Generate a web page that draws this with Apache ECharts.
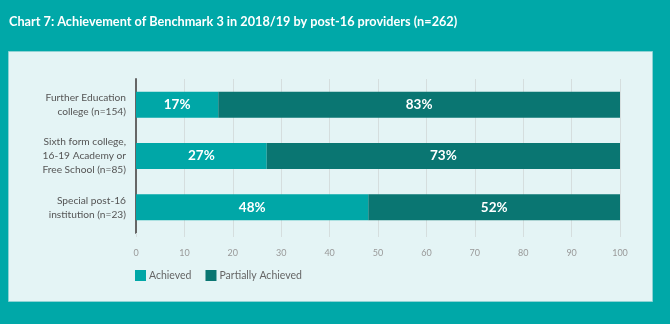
<!DOCTYPE html>
<html>
<head>
<meta charset="utf-8">
<style>
html,body{margin:0;padding:0;background:#00A8A8;}
#chart{width:670px;height:324px;}
</style>
<script src="https://cdn.jsdelivr.net/npm/echarts@6/dist/echarts.min.js"></script>
</head>
<body>
<div id="chart"></div>
<script>
const categories = [
  "Further Education\ncollege (n=154)",
  "Sixth form college,\n16-19 Academy or\nFree School (n=85)",
  "Special post-16\ninstitution (n=23)"
];
const achieved = [17, 27, 48];
const partiallyAchieved = [83, 73, 52];
const seriesNames = ["Achieved", "Partially Achieved"];
const xTicks = [0, 10, 20, 30, 40, 50, 60, 70, 80, 90, 100];
const titleText = "Chart 7: Achievement of Benchmark 3 in 2018/19 by post-16 providers (n=262)";

const chart = echarts.init(document.getElementById('chart'), null, {renderer: 'canvas'});
const font = 'Lato, "Open Sans", sans-serif';
const labelStyle = {
  show: true,
  position: 'inside',
  color: '#ffffff',
  fontFamily: font,
  fontSize: 13.5,
  fontWeight: 'bold',
  formatter: p => p.value + '%'
};
chart.setOption({
  backgroundColor: '#00A8A8',
  animation: false,
  graphic: [{
    type: 'rect',
    z: -10,
    shape: {x: 8.5, y: 51.5, width: 644, height: 250},
    style: {fill: '#E4F4F5', stroke: '#8ED3D4', lineWidth: 1}
  }],
  title: {
    text: titleText,
    left: 4,
    top: 10,
    textStyle: {color: '#ffffff', fontFamily: font, fontSize: 12.7, fontWeight: 'bold'}
  },
  legend: {
    data: seriesNames,
    left: 130,
    top: 265,
    itemWidth: 11,
    itemHeight: 11,
    itemGap: 14,
    icon: 'rect',
    textStyle: {color: '#666', fontFamily: font, fontSize: 10.5, padding: [0, 0, 0, -2]}
  },
  grid: {left: 136, right: 50, top: 79, height: 154, containLabel: false},
  xAxis: {
    type: 'value',
    min: xTicks[0],
    max: xTicks[xTicks.length - 1],
    interval: 10,
    axisLine: {show: false},
    axisTick: {show: true, length: 4, lineStyle: {color: '#D5DEDE'}},
    splitLine: {show: true, lineStyle: {color: '#D5DEDE', width: 1}},
    axisLabel: {color: '#999', fontFamily: font, fontSize: 9, margin: 16}
  },
  yAxis: {
    type: 'category',
    data: categories,
    inverse: true,
    axisLine: {show: true, lineStyle: {color: '#666', width: 2}},
    axisTick: {show: false},
    axisLabel: {color: '#555', fontFamily: font, fontSize: 10.2, lineHeight: 14, margin: 10, align: 'right'}
  },
  series: [
    {
      name: seriesNames[0],
      type: 'bar',
      stack: 'total',
      barWidth: 26,
      data: achieved,
      itemStyle: {color: '#00A7A7'},
      label: labelStyle
    },
    {
      name: seriesNames[1],
      type: 'bar',
      stack: 'total',
      barWidth: 26,
      data: partiallyAchieved,
      itemStyle: {color: '#0A7672'},
      label: labelStyle
    }
  ]
});
</script>
</body>
</html>
